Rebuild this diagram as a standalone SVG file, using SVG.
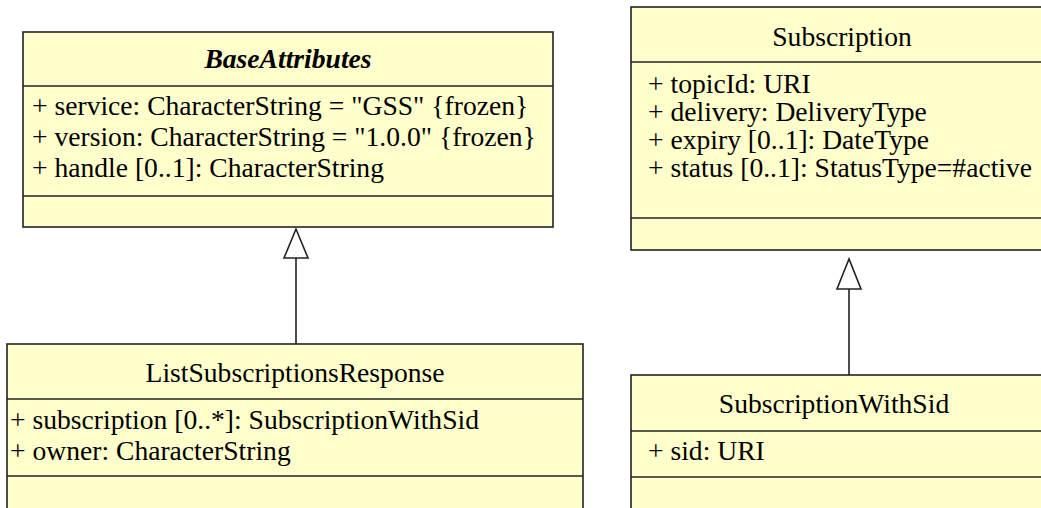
<svg xmlns="http://www.w3.org/2000/svg" width="1041" height="508" viewBox="0 0 1041 508">
<style>
.box{fill:#ffffcc;stroke:#222;stroke-width:1.6}
.sep{stroke:#222;stroke-width:1.6}
text{font-family:"Liberation Serif","Times New Roman",serif;font-size:27.6px;fill:#000}
.title{text-anchor:middle}
.abs{font-weight:bold;font-style:italic}
.conn{stroke:#222;stroke-width:1.6;fill:none}
.head{fill:#fff;stroke:#222;stroke-width:1.6}
</style>
<rect width="1041" height="508" fill="#fff"/>
<g id="BaseAttributes">
<rect class="box" x="23" y="32" width="530" height="195"/>
<line class="sep" x1="23" y1="86" x2="553" y2="86"/>
<line class="sep" x1="23" y1="196" x2="553" y2="196"/>
<text class="title abs" x="288" y="68">BaseAttributes</text>
<text x="32" y="115">+ service: CharacterString = "GSS" {frozen}</text>
<text x="32" y="146">+ version: CharacterString = "1.0.0" {frozen}</text>
<text x="32" y="177">+ handle [0..1]: CharacterString</text>
</g>
<g id="ListSubscriptionsResponse">
<rect class="box" x="7" y="344" width="576" height="180"/>
<line class="sep" x1="7" y1="399" x2="583" y2="399"/>
<line class="sep" x1="7" y1="476" x2="583" y2="476"/>
<text class="title" x="295" y="382">ListSubscriptionsResponse</text>
<text x="10" y="429">+ subscription [0..*]: SubscriptionWithSid</text>
<text x="10" y="460">+ owner: CharacterString</text>
</g>
<g id="Subscription">
<rect class="box" x="631" y="7" width="440" height="243"/>
<line class="sep" x1="631" y1="62" x2="1071" y2="62"/>
<line class="sep" x1="631" y1="218" x2="1071" y2="218"/>
<text class="title" x="842" y="46">Subscription</text>
<text x="648" y="93">+ topicId: URI</text>
<text x="648" y="121">+ delivery: DeliveryType</text>
<text x="648" y="149">+ expiry [0..1]: DateType</text>
<text x="648" y="177">+ status [0..1]: StatusType=#active</text>
</g>
<g id="SubscriptionWithSid">
<rect class="box" x="631" y="375" width="440" height="150"/>
<line class="sep" x1="631" y1="431" x2="1071" y2="431"/>
<line class="sep" x1="631" y1="477" x2="1071" y2="477"/>
<text class="title" x="834" y="413">SubscriptionWithSid</text>
<text x="648" y="460">+ sid: URI</text>
</g>
<g id="connectors">
<line class="conn" x1="296" y1="344" x2="296" y2="258"/>
<polygon class="head" points="296,229 284,258 308,258"/>
<line class="conn" x1="849" y1="375" x2="849" y2="289"/>
<polygon class="head" points="849,259 837,289 861,289"/>
</g>
</svg>
